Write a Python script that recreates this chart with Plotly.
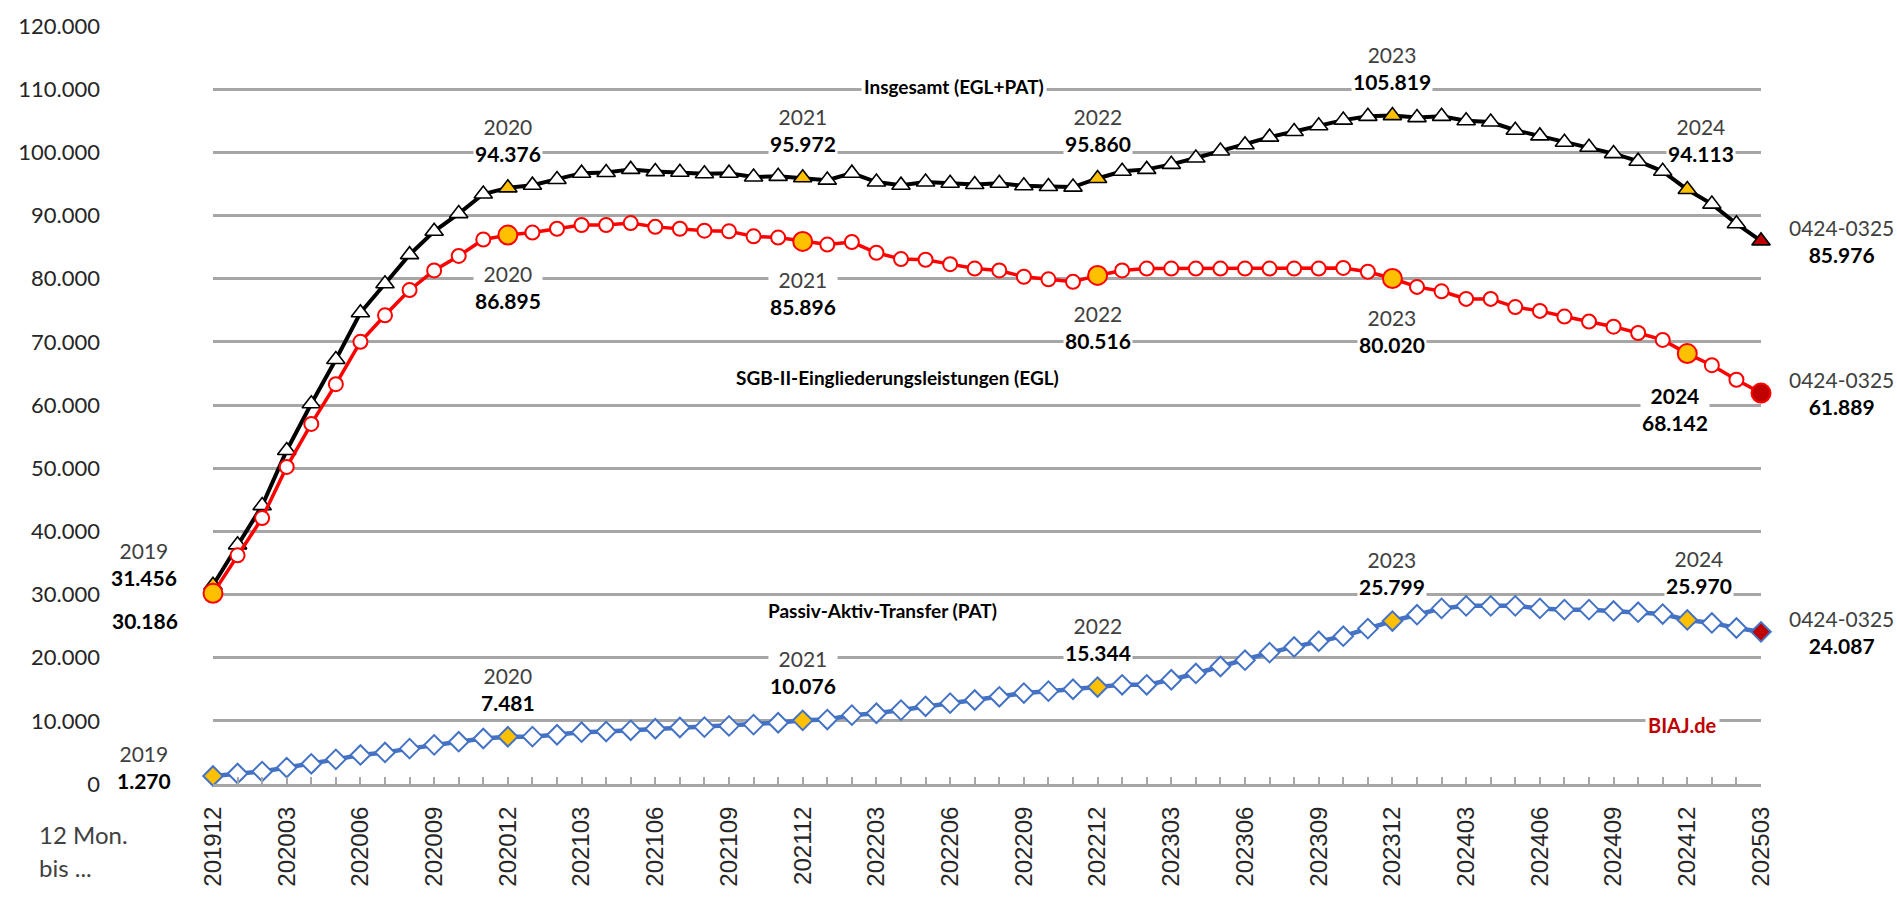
import plotly.graph_objects as go


MONTHS = [
    "201912",
    "202001", "202002", "202003", "202004", "202005", "202006",
    "202007", "202008", "202009", "202010", "202011", "202012",
    "202101", "202102", "202103", "202104", "202105", "202106",
    "202107", "202108", "202109", "202110", "202111", "202112",
    "202201", "202202", "202203", "202204", "202205", "202206",
    "202207", "202208", "202209", "202210", "202211", "202212",
    "202301", "202302", "202303", "202304", "202305", "202306",
    "202307", "202308", "202309", "202310", "202311", "202312",
    "202401", "202402", "202403", "202404", "202405", "202406",
    "202407", "202408", "202409", "202410", "202411", "202412",
    "202501", "202502", "202503",
]

# Insgesamt (EGL+PAT), 12-Monats-Durchschnitt
INSGESAMT = [
    31456,
    37860, 44070, 52800, 60200, 67200, 74600,
    79200, 83800, 87500, 90300, 93400, 94376,
    94800, 95700, 96700, 96800, 97300, 96950,
    96850, 96600, 96700, 96100, 96200, 95972,
    95600, 96700, 95300, 94800, 95300, 95100,
    94900, 95100, 94700, 94600, 94500, 95860,
    97000, 97300, 98100, 99100, 100200, 101200,
    102400, 103300, 104200, 105100, 105700, 105819,
    105500, 105700, 105000, 104800, 103500, 102600,
    101600, 100800, 99800, 98600, 97000, 94113,
    91800, 88700, 85976,
]

# SGB-II-Eingliederungsleistungen (EGL)
EGL = [
    30186,
    36200, 42100, 50200, 57000, 63300, 70000,
    74200, 78200, 81300, 83600, 86200, 86895,
    87300, 87900, 88500, 88500, 88800, 88200,
    87900, 87600, 87500, 86700, 86500, 85896,
    85400, 85800, 84100, 83100, 83000, 82300,
    81600, 81300, 80300, 79900, 79500, 80516,
    81300, 81600, 81600, 81600, 81600, 81600,
    81600, 81600, 81600, 81700, 81100, 80020,
    78700, 78000, 76800, 76800, 75500, 74900,
    74000, 73200, 72400, 71400, 70300, 68142,
    66300, 64000, 61889,
]

# Passiv-Aktiv-Transfer (PAT)
PAT = [
    1270,
    1660, 1970, 2600, 3200, 3900, 4600,
    5000, 5600, 6200, 6700, 7200, 7481,
    7500, 7800, 8200, 8300, 8500, 8750,
    8950, 9000, 9200, 9400, 9700, 10076,
    10200, 10900, 11200, 11700, 12300, 12800,
    13300, 13800, 14400, 14700, 15000, 15344,
    15700, 15700, 16500, 17500, 18600, 19600,
    20800, 21700, 22600, 23400, 24600, 25799,
    26800, 27800, 28200, 28200, 28200, 27800,
    27600, 27600, 27400, 27200, 26900, 25970,
    25500, 24700, 24087,
]

LAST_LABEL = "0424-0325"

ORANGE = "#FFC000"
DARK_RED = "#C00000"
GRID = "#A6A6A6"
FONT = "Lato"
TEXT_GREY = "#404040"

december = [i for i, m in enumerate(MONTHS) if m.endswith("12")]
last = len(MONTHS) - 1


def fmt(v):
    return f"{v:,}".replace(",", ".")


def marker_colors(base):
    colors = [base] * len(MONTHS)
    for i in december:
        colors[i] = ORANGE
    colors[last] = DARK_RED
    return colors


def marker_sizes(base, big):
    sizes = [base] * len(MONTHS)
    for i in december:
        sizes[i] = big
    sizes[last] = big
    return sizes


def add_label(fig, i, values, xshift, yshift, bold_year=False, show_year=True):
    year = LAST_LABEL if i == last else MONTHS[i][:4]
    if bold_year:
        year_txt = f"<b>{year}</b>"
    else:
        year_txt = f"<span style='color:{TEXT_GREY}'>{year}</span>"
    value_txt = f"<b>{fmt(values[i])}</b>"
    text = f"{year_txt}<br>{value_txt}" if show_year else value_txt
    fig.add_annotation(
        x=i,
        y=values[i],
        xref="x",
        yref="y",
        text=text,
        showarrow=False,
        xanchor="center",
        yanchor="middle",
        xshift=xshift,
        yshift=yshift,
        bgcolor="white",
        borderpad=1,
        font=dict(family=FONT, size=21, color="black"),
    )


fig = go.Figure()

fig.add_trace(
    go.Scatter(
        x=MONTHS,
        y=PAT,
        mode="lines+markers",
        name="Passiv-Aktiv-Transfer (PAT)",
        line=dict(color="#4472C4", width=4.5),
        marker=dict(
            symbol="diamond",
            size=15,
            opacity=1,
            color=marker_colors("white"),
            line=dict(color="#4472C4", width=2),
        ),
        cliponaxis=False,
    )
)

fig.add_trace(
    go.Scatter(
        x=MONTHS,
        y=INSGESAMT,
        mode="lines+markers",
        name="Insgesamt (EGL+PAT)",
        line=dict(color="black", width=4),
        marker=dict(
            symbol="triangle-up",
            size=16,
            opacity=1,
            color=marker_colors("white"),
            line=dict(color="black", width=1.6),
        ),
        cliponaxis=False,
    )
)

fig.add_trace(
    go.Scatter(
        x=MONTHS,
        y=EGL,
        mode="lines+markers",
        name="SGB-II-Eingliederungsleistungen (EGL)",
        line=dict(color="#FF0000", width=3.5),
        marker=dict(
            symbol="circle",
            size=marker_sizes(14, 19),
            opacity=1,
            color=marker_colors("white"),
            line=dict(color="#FF0000", width=2),
        ),
        cliponaxis=False,
    )
)

# value labels at each December and at the last month
for i in december + [last]:
    if i == 0:
        add_label(fig, i, INSGESAMT, -69, 21)
        add_label(fig, i, EGL, -68, -27, show_year=False)
        add_label(fig, i, PAT, -69, 9)
    elif i == last:
        add_label(fig, i, INSGESAMT, 80, 0)
        add_label(fig, i, EGL, 80, 0)
        add_label(fig, i, PAT, 80, 0)
    elif i == december[-1]:
        add_label(fig, i, INSGESAMT, 14, 50)
        add_label(fig, i, EGL, -12, -55, bold_year=True)
        add_label(fig, i, PAT, 12, 48)
    else:
        add_label(fig, i, INSGESAMT, 0, 48)
        add_label(fig, i, EGL, 0, -52)
        add_label(fig, i, PAT, 0, 48)

series_labels = [
    ("Insgesamt (EGL+PAT)", 0.4787, 0.9208),
    ("SGB-II-Eingliederungsleistungen (EGL)", 0.4420, 0.5360),
    ("Passiv-Aktiv-Transfer (PAT)", 0.4322, 0.2286),
]
for text, xp, yp in series_labels:
    fig.add_annotation(
        x=xp, y=yp, xref="paper", yref="paper",
        xanchor="center", yanchor="middle",
        text=f"<b>{text}</b>", showarrow=False,
        bgcolor="white", borderpad=2,
        font=dict(family=FONT, size=19, color="black"),
    )

fig.add_annotation(
    x=0.9496, y=0.0779, xref="paper", yref="paper",
    xanchor="center", yanchor="middle",
    text="<b>BIAJ.de</b>", showarrow=False,
    bgcolor="white", borderpad=2,
    font=dict(family=FONT, size=20, color=DARK_RED),
)

for text, yp in [("12 Mon.", -0.066), ("bis ...", -0.110)]:
    fig.add_annotation(
        x=-0.114, y=yp, xref="paper", yref="paper",
        xanchor="left", yanchor="middle", align="left",
        text=text, showarrow=False,
        font=dict(family=FONT, size=24, color=TEXT_GREY),
    )

tick_idx = list(range(len(MONTHS)))
tick_txt = [m if i % 3 == 0 else "" for i, m in enumerate(MONTHS)]

fig.update_xaxes(
    type="category",
    range=[0, last],
    tickmode="array",
    tickvals=tick_idx,
    ticktext=tick_txt,
    tickangle=-90,
    ticks="inside",
    ticklen=7,
    tickwidth=2,
    tickcolor=GRID,
    showline=True,
    linecolor=GRID,
    linewidth=3,
    showgrid=False,
    zeroline=False,
    ticklabelstandoff=10,
    tickfont=dict(family="Liberation Sans", size=24, color="#262626"),
)

fig.update_yaxes(
    range=[0, 120000],
    dtick=10000,
    tickformat=",d",
    showgrid=True,
    gridcolor=GRID,
    gridwidth=2.5,
    zeroline=False,
    showline=False,
    ticks="",
    ticklabelstandoff=112,
    tickfont=dict(family=FONT, size=22, color="#262626"),
)

fig.update_layout(
    width=1897,
    height=899,
    separators=",.",
    showlegend=False,
    paper_bgcolor="white",
    plot_bgcolor="white",
    margin=dict(l=213, r=136, t=22, b=107),
    font=dict(family=FONT),
)

fig.write_html(
    "out.html",
    config={"displayModeBar": False},
    post_script="document.body.style.margin = '0';",
)
